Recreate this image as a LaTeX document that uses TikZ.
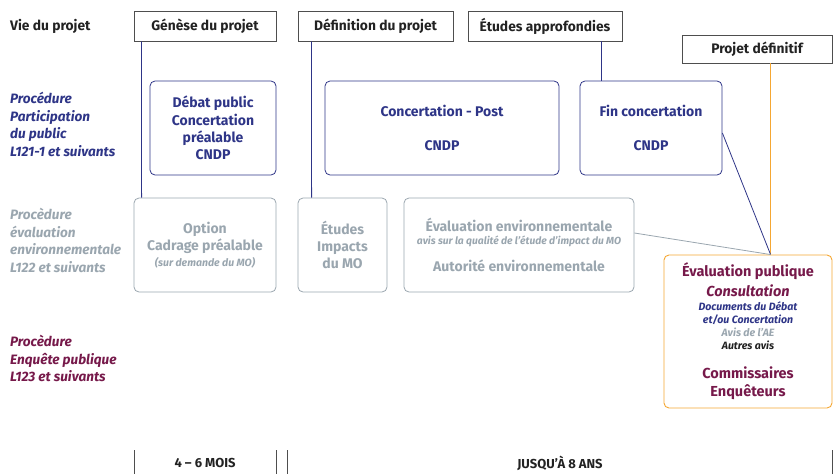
\documentclass[tikz,border=0pt]{standalone}
\usepackage{fontspec}
\setmainfont{Fira Sans}
\usetikzlibrary{calc}
\definecolor{cblue}{HTML}{2E3587}
\definecolor{cgray}{HTML}{9AA6AF}
\definecolor{cmaroon}{HTML}{76194A}
\definecolor{corange}{HTML}{F5A733}
\definecolor{cdark}{HTML}{222222}
\tikzset{
  hdr/.style={draw=cdark!80, line width=0.9pt, inner sep=0pt, font=\fontsize{13.8}{15}\selectfont\bfseries, text=cdark},
  bluebox/.style={draw=cblue, line width=0.8pt, rounded corners=5pt, inner sep=0pt, text=cblue, align=center, font=\fontsize{14}{17.3}\selectfont\bfseries},
  graybox/.style={draw=cgray, line width=0.8pt, rounded corners=5pt, inner sep=0pt, text=cgray, align=center, font=\fontsize{14}{17.3}\selectfont\bfseries},
  orbox/.style={draw=corange, line width=0.9pt, rounded corners=5pt, inner sep=0pt, align=center, font=\fontsize{10.6}{13}\selectfont},
  lab/.style={anchor=north west, inner sep=0pt, align=left, font=\fontsize{13.6}{17.5}\selectfont\bfseries\itshape},
  conn/.style={line width=0.8pt},
  tick/.style={line width=0.8pt, draw=cdark!80},
  dur/.style={inner sep=0pt, font=\fontsize{13}{15}\selectfont\bfseries, text=cdark}
}
\begin{document}
\begin{tikzpicture}[x=1pt,y=-1pt]
\useasboundingbox (0,0) rectangle (833,474);
% header row
\node[anchor=west, inner sep=0pt, font=\fontsize{13.8}{15}\selectfont\bfseries, text=cdark] (vie) at (10,26) {Vie du projet};
\node[hdr, minimum width=142pt, minimum height=30pt] (gen) at (205,26) {Génèse du projet};
\node[hdr, minimum width=155pt, minimum height=30pt] (def) at (375.5,26) {Définition du projet};
\node[hdr, minimum width=154pt, minimum height=30pt] (ea) at (545,26) {Études approfondies};
\node[hdr, minimum width=150pt, minimum height=28pt] (pd) at (757,49) {Projet définitif};
% left labels
\node[lab, text=cblue] (l1) at (10,92) {Procédure\\Participation\\du public\\L121-1 et suivants};
\node[lab, text=cgray] (l2) at (10,208) {Procèdure\\évaluation\\environnementale\\L122 et suivants};
\node[lab, text=cmaroon] (l3) at (10,335) {Procèdure\\Enquête publique\\L123 et suivants};
% row 1
\node[bluebox, minimum width=126pt, minimum height=94pt] (deb) at (213,128) {Débat public\\Concertation\\préalable\\CNDP};
\node[bluebox, minimum width=234pt, minimum height=94pt] (cp) at (442,128) {Concertation - Post\\[17pt]CNDP};
\node[bluebox, minimum width=142pt, minimum height=94pt] (fin) at (651,128) {Fin concertation\\[17pt]CNDP};
% row 2
\node[graybox, minimum width=142pt, minimum height=94pt] (cad) at (205,245) {Option\\Cadrage préalable\\[-1pt]{\fontsize{10.5}{12}\selectfont\itshape (sur demande du MO)}};
\node[graybox, minimum width=89pt, minimum height=94pt] (eti) at (342.5,245) {Études\\Impacts\\du MO};
\node[graybox, minimum width=230pt, minimum height=94pt] (ee) at (519,245) {Évaluation environnementale\\[-4pt]{\fontsize{10.3}{11}\selectfont\itshape avis sur la qualité de l'étude d'impact du MO}\\[10pt]Autorité environnementale};
% row 3
\node[orbox, minimum width=168pt, minimum height=153pt] (ev) at (748,331.5) {%
{\fontsize{14.5}{17}\selectfont\bfseries\color{cmaroon}Évaluation publique}\\[4pt]
{\fontsize{14.5}{17}\selectfont\bfseries\itshape\color{cmaroon}Consultation}\\[1pt]
{\bfseries\itshape\color{cblue}Documents du Débat}\\
{\bfseries\itshape\color{cblue}et/ou Concertation}\\
{\bfseries\itshape\color{cgray}Avis de l'AE}\\
{\bfseries\itshape\color{cdark}Autres avis}\\[16pt]
{\fontsize{14.5}{18}\selectfont\bfseries\color{cmaroon}Commissaires}\\[5pt]
{\fontsize{14.5}{18}\selectfont\bfseries\color{cmaroon}Enquêteurs}};
% connectors
\draw[conn, cblue] ([xshift=8pt]gen.south west) -- ([xshift=8pt]cad.north west);
\draw[conn, cblue] ([xshift=14pt]def.south west) -- ([xshift=14pt]eti.north west);
\draw[conn, cblue] ([xshift=-21pt]ea.south east) -- ([xshift=-21pt]ea.south east |- fin.north);
\coordinate (j) at ([xshift=89pt]pd.south west |- ev.north);
\draw[conn, corange] ([xshift=89pt]pd.south west) -- (j);
\draw[conn, cblue] ([yshift=-5pt]fin.east) -- (j);
\draw[conn, cgray] ([yshift=12pt]ee.east) -- (j);
% durations
\draw[tick] (134,450) -- (134,474);
\draw[tick] (276,450) -- (276,474);
\draw[tick] (287,450) -- (287,474);
\draw[tick] (832,450) -- (832,474);
\node[dur] (d1) at (205,463) {4 – 6 MOIS};
\node[dur] (d2) at (560,463) {JUSQU'À 8 ANS};
\end{tikzpicture}
\end{document}
